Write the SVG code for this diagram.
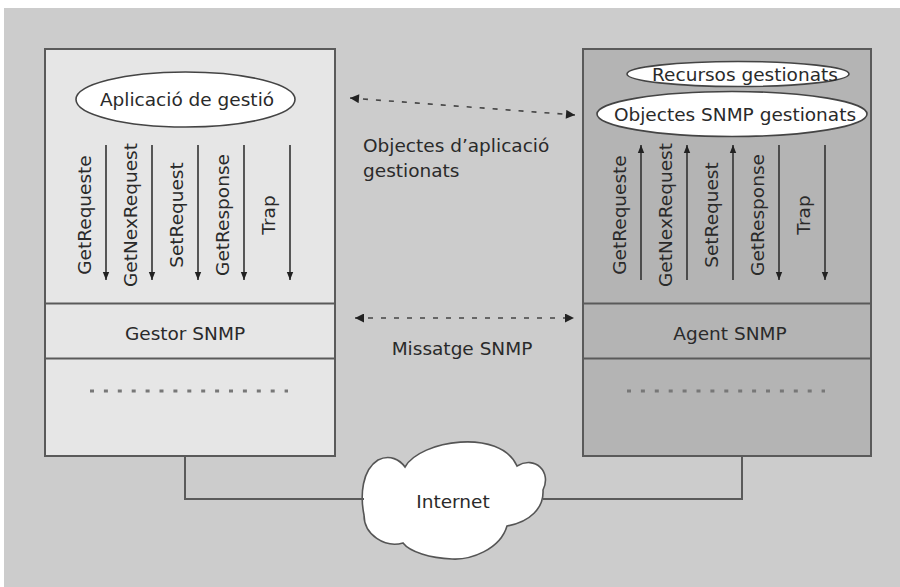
<svg xmlns="http://www.w3.org/2000/svg" width="900" height="587" viewBox="0 0 900 587">
<style>
  text { font-family: "DejaVu Sans", "Liberation Sans", sans-serif; font-size: 18.5px; fill: #2a2a2a; }
  .box { stroke: #5a5a5a; stroke-width: 2; }
  .div { stroke: #5a5a5a; stroke-width: 2; fill: none; }
  .ell { fill: #ffffff; stroke: #444; stroke-width: 1.6; }
  .varr { stroke: #333; stroke-width: 1.6; fill: none; }
  .dots { stroke: #777; stroke-width: 3; stroke-dasharray: 4 9.9; fill: none; }
  .darr { stroke: #444; stroke-width: 1.6; stroke-dasharray: 5 8; fill: none; }
  .wire { stroke: #5a5a5a; stroke-width: 2; fill: none; }
</style>
<defs>
  <marker id="ah" viewBox="0 0 10 10" refX="10" refY="5" markerWidth="8" markerHeight="8" markerUnits="userSpaceOnUse" orient="auto-start-reverse">
    <path d="M0,1 L10,5 L0,9 Z" fill="#222"/>
  </marker>
  <marker id="dh" viewBox="0 0 10 10" refX="10" refY="5" markerWidth="10" markerHeight="9" markerUnits="userSpaceOnUse" orient="auto-start-reverse">
    <path d="M0,0 L10,5 L0,10 Z" fill="#222"/>
  </marker>
</defs>
<rect x="4" y="8" width="896" height="579" fill="#cccccc"/>

<g id="gestor">
  <rect class="box" x="45" y="49" width="290" height="407" fill="#e6e6e6"/>
  <line class="div" x1="45" y1="303.5" x2="335" y2="303.5"/>
  <line class="div" x1="45" y1="358.5" x2="335" y2="358.5"/>
  <text x="185" y="340" text-anchor="middle">Gestor SNMP</text>
  <line class="dots" x1="90" y1="391" x2="288" y2="391"/>
</g>
<g id="aplicacio">
  <ellipse class="ell" cx="185.5" cy="99.5" rx="109.5" ry="27.5"/>
  <text x="187" y="106" text-anchor="middle">Aplicació de gestió</text>
</g>
<g id="gestor-labels">
  <text transform="translate(91,215) rotate(-90)" text-anchor="middle">GetRequeste</text>
  <text transform="translate(137,215) rotate(-90)" text-anchor="middle">GetNexRequest</text>
  <text transform="translate(183,215) rotate(-90)" text-anchor="middle">SetRequest</text>
  <text transform="translate(229,215) rotate(-90)" text-anchor="middle">GetResponse</text>
  <text transform="translate(275,215) rotate(-90)" text-anchor="middle">Trap</text>
</g>

<g id="agent">
  <rect class="box" x="583" y="49" width="288" height="407" fill="#b4b4b4"/>
  <line class="div" x1="583" y1="303.5" x2="871" y2="303.5"/>
  <line class="div" x1="583" y1="358.5" x2="871" y2="358.5"/>
  <text x="730" y="340" text-anchor="middle">Agent SNMP</text>
  <line class="dots" x1="627" y1="391" x2="825" y2="391"/>
</g>
<g id="recursos">
  <ellipse class="ell" cx="738" cy="74" rx="111" ry="12.5"/>
  <text x="745" y="81" text-anchor="middle">Recursos gestionats</text>
</g>
<g id="objectes-snmp">
  <ellipse class="ell" cx="732" cy="114" rx="135" ry="22.5"/>
  <text x="735" y="120.5" text-anchor="middle">Objectes SNMP gestionats</text>
</g>
<g id="agent-labels">
  <text transform="translate(626,215) rotate(-90)" text-anchor="middle">GetRequeste</text>
  <text transform="translate(672,215) rotate(-90)" text-anchor="middle">GetNexRequest</text>
  <text transform="translate(718,215) rotate(-90)" text-anchor="middle">SetRequest</text>
  <text transform="translate(764,215) rotate(-90)" text-anchor="middle">GetResponse</text>
  <text transform="translate(810,215) rotate(-90)" text-anchor="middle">Trap</text>
</g>

<g id="internet">
  <path d="M405 467 C420 440 500 428 517 466 C535 455 552 472 543 490 C544 508 530 522 507 526 C500 550 470 560 452 559 C430 558 410 552 403 543 C385 548 364 535 364 515 C360 495 362 470 378 460 C390 454 400 460 405 467 Z" fill="#ffffff" stroke="#555" stroke-width="1.6"/>
  <text x="453" y="508" text-anchor="middle">Internet</text>
</g>

<g id="middle-labels">
  <text x="363" y="152">Objectes d’aplicació</text>
  <text x="363" y="177">gestionats</text>
  <text x="462" y="355" text-anchor="middle">Missatge SNMP</text>
</g>

<g id="connectors">
  <line class="varr" x1="106" y1="145" x2="106" y2="280" marker-end="url(#ah)"/>
  <line class="varr" x1="152" y1="145" x2="152" y2="280" marker-end="url(#ah)"/>
  <line class="varr" x1="198" y1="145" x2="198" y2="280" marker-end="url(#ah)"/>
  <line class="varr" x1="244" y1="145" x2="244" y2="280" marker-end="url(#ah)"/>
  <line class="varr" x1="290" y1="145" x2="290" y2="280" marker-end="url(#ah)"/>

  <line class="varr" x1="641" y1="280" x2="641" y2="145" marker-end="url(#ah)"/>
  <line class="varr" x1="687" y1="280" x2="687" y2="145" marker-end="url(#ah)"/>
  <line class="varr" x1="733" y1="280" x2="733" y2="145" marker-end="url(#ah)"/>
  <line class="varr" x1="779" y1="145" x2="779" y2="280" marker-end="url(#ah)"/>
  <line class="varr" x1="825" y1="145" x2="825" y2="280" marker-end="url(#ah)"/>

  <line class="darr" x1="350" y1="98" x2="575" y2="115" marker-start="url(#dh)" marker-end="url(#dh)"/>
  <line class="darr" x1="355" y1="318" x2="574" y2="318" marker-start="url(#dh)" marker-end="url(#dh)"/>

  <polyline class="wire" points="185,456 185,499 364,499"/>
  <polyline class="wire" points="543,499 742,499 742,456"/>
</g>
</svg>
